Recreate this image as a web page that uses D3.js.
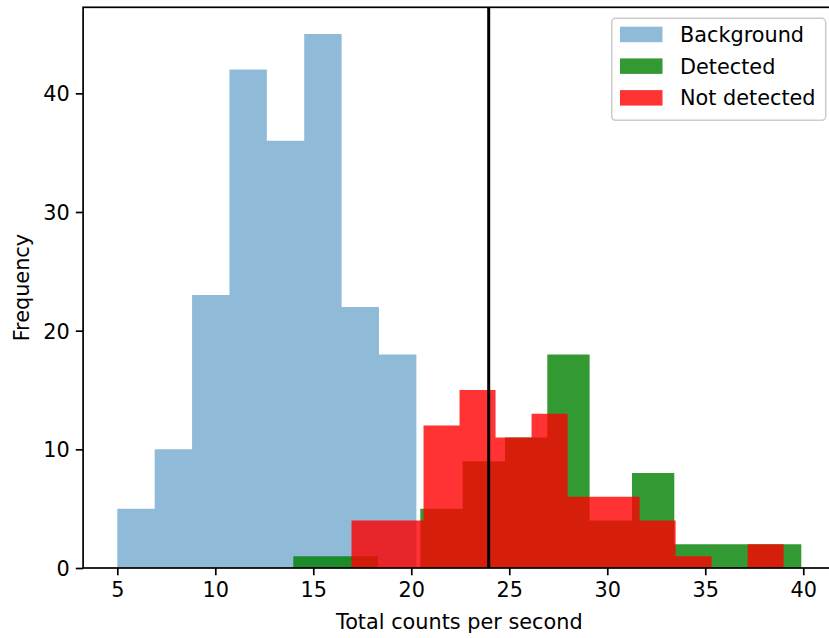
<!DOCTYPE html>
<html>
<head>
<meta charset="utf-8">
<script src="https://cdn.jsdelivr.net/npm/d3@7"></script>
<style>
  html, body { margin: 0; padding: 0; background: #fff; }
  svg { display: block; font-family: "DejaVu Sans", sans-serif; }
</style>
</head>
<body>
<svg id="chart" width="829" height="638"></svg>
<script>
// Histogram counts per bin; bins are equal-width over each series' range.
const bgCounts  = [5, 10, 23, 42, 36, 45, 22, 18];
const bgRange   = [5.0, 20.26];
const detCounts = [1, 1, 0, 5, 9, 11, 18, 4, 8, 2, 2, 2];
const detRange  = [13.98, 39.9];
const ndCounts  = [4, 4, 12, 15, 11, 13, 6, 6, 4, 1, 0, 2];
const ndRange   = [16.95, 39.0];
const threshold = 23.95;

const xTicks = [5, 10, 15, 20, 25, 30, 35, 40];
const yTicks = [0, 10, 20, 30, 40];
const seriesNames = ["Background", "Detected", "Not detected"];

(function () {
  const FONT = 20.8;
  const svg = d3.select("#chart");

  const plotL = 83.1, plotR = 835.5, plotT = 7.3, plotB = 568;

  // 5% margins around the combined data extent
  const dataMin = Math.min(bgRange[0], detRange[0], ndRange[0]);
  const dataMax = Math.max(bgRange[1], detRange[1], ndRange[1]);
  const pad = 0.05 * (dataMax - dataMin);
  const x = d3.scaleLinear().domain([dataMin - pad, dataMax + pad]).range([plotL, plotR]);
  const yMax = d3.max([...bgCounts, ...detCounts, ...ndCounts]) * 1.05;
  const y = d3.scaleLinear().domain([0, yMax]).range([plotB, plotT]);

  function bins(counts, range) {
    const w = (range[1] - range[0]) / counts.length;
    return counts.map((c, i) => ({ x0: range[0] + i * w, x1: range[0] + (i + 1) * w, c }));
  }

  // one outline per series, so neighbouring bars share edges without seams
  function barsPath(data) {
    const p = d3.path();
    let open = false;
    data.forEach((d, i) => {
      if (d.c > 0) {
        if (!open) { p.moveTo(x(d.x0), y(0)); open = true; }
        p.lineTo(x(d.x0), y(d.c));
        p.lineTo(x(d.x1), y(d.c));
      }
      const next = data[i + 1];
      if (open && (!next || next.c === 0)) {
        p.lineTo(x(d.x1), y(0));
        p.closePath();
        open = false;
      }
    });
    return p.toString();
  }

  const series = [
    { name: seriesNames[0], data: bins(bgCounts, bgRange),   color: "#1f77b4", op: 0.5 },
    { name: seriesNames[1], data: bins(detCounts, detRange), color: "#008000", op: 0.8 },
    { name: seriesNames[2], data: bins(ndCounts, ndRange),   color: "#ff0000", op: 0.8 }
  ];

  const plot = svg.append("g");
  plot.selectAll("path.hist")
    .data(series)
    .join("path")
    .attr("class", "hist")
    .attr("d", s => barsPath(s.data))
    .attr("fill", s => s.color)
    .attr("fill-opacity", s => s.op);

  // threshold line
  plot.append("line")
    .attr("x1", x(threshold)).attr("x2", x(threshold))
    .attr("y1", plotT).attr("y2", plotB)
    .attr("stroke", "#000").attr("stroke-width", 3);

  // axes
  const xAxis = d3.axisBottom(x).tickValues(xTicks).tickSize(7.3).tickPadding(6).tickFormat(d3.format("d"));
  const yAxis = d3.axisLeft(y).tickValues(yTicks).tickSize(7.3).tickPadding(6).tickFormat(d3.format("d"));

  const gx = svg.append("g").attr("transform", `translate(0,${plotB})`).call(xAxis);
  const gy = svg.append("g").attr("transform", `translate(${plotL},0)`).call(yAxis);
  [gx, gy].forEach(g => {
    g.select(".domain").remove();
    g.selectAll(".tick line").attr("stroke", "#000").attr("stroke-width", 1.7);
    g.selectAll(".tick text").attr("fill", "#000").attr("font-size", FONT)
      .attr("font-family", "DejaVu Sans");
  });
  gx.selectAll(".tick text").attr("dy", "0.74em");
  gy.selectAll(".tick text").attr("dy", "0.36em");

  // frame
  svg.append("rect")
    .attr("x", plotL).attr("y", plotT)
    .attr("width", plotR - plotL).attr("height", plotB - plotT)
    .attr("fill", "none").attr("stroke", "#000").attr("stroke-width", 1.7);

  // axis titles
  svg.append("text")
    .attr("x", (plotL + plotR) / 2).attr("y", 629)
    .attr("text-anchor", "middle").attr("font-size", FONT).attr("fill", "#000")
    .text("Total counts per second");
  svg.append("text")
    .attr("transform", `translate(28.5,${(plotT + plotB) / 2}) rotate(-90)`)
    .attr("text-anchor", "middle").attr("font-size", FONT).attr("fill", "#000")
    .text("Frequency");

  // legend
  const lg = svg.append("g").attr("transform", "translate(611.7,18.3)");
  lg.append("rect")
    .attr("width", 214).attr("height", 102).attr("rx", 4).attr("ry", 4)
    .attr("fill", "#fff").attr("fill-opacity", 0.8)
    .attr("stroke", "#cccccc").attr("stroke-width", 1.5);
  series.forEach((s, i) => {
    const row = lg.append("g").attr("transform", `translate(0,${8.4 + i * 31.7})`);
    row.append("rect")
      .attr("x", 8.3).attr("y", 0).attr("width", 42.5).attr("height", 15.5)
      .attr("fill", s.color).attr("fill-opacity", s.op);
    row.append("text")
      .attr("x", 68.3).attr("y", 15.2)
      .attr("font-size", FONT).attr("fill", "#000")
      .text(s.name);
  });
})();
</script>
</body>
</html>
